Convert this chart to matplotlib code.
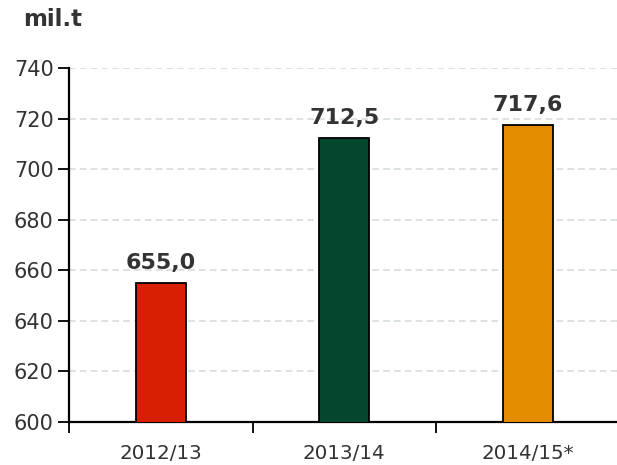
import matplotlib
matplotlib.use("Agg")
import matplotlib.pyplot as plt
from matplotlib.ticker import FixedLocator

categories = ["2012/13", "2013/14", "2014/15*"]
values = [655.0, 712.5, 717.6]
colors = ["#D81E03", "#03472D", "#E38C00"]
yticks = [600, 620, 640, 660, 680, 700, 720, 740]

fig = plt.figure(figsize=(6.17, 4.65), dpi=100)
ax = fig.add_axes([69/617, 43/465, 550.5/617, 354/465])

x = list(range(len(categories)))
bars = ax.bar(x, values, width=0.27, color=colors, edgecolor="black", linewidth=1.3, zorder=3)

ax.set_xlim(-0.5, 2.5)
ax.set_ylim(600, 740)
ax.set_yticks(yticks)
ax.set_xticks(x)
ax.set_xticklabels(categories)
ax.xaxis.set_minor_locator(FixedLocator([-0.5, 0.5, 1.5, 2.5]))
ax.tick_params(axis="x", which="major", length=0, pad=16, labelsize=14.3, labelcolor="#333333")
ax.tick_params(axis="x", which="minor", length=8, width=1.3, direction="out", color="black")
ax.tick_params(axis="y", length=8, width=1.3, labelsize=15, labelcolor="#333333", pad=3)

for spine in ["top", "right"]:
    ax.spines[spine].set_visible(False)
for spine in ["left", "bottom"]:
    ax.spines[spine].set_linewidth(1.6)

for yv in yticks[1:]:
    ax.axhline(yv, color="#D5DDD9", linestyle=(0, (4, 2.5)), linewidth=1.2, zorder=1)

for xi, v in zip(x, values):
    ax.annotate(f"{v:.1f}".replace(".", ","), (xi, v), xytext=(0, 7), textcoords="offset points",
                ha="center", va="bottom", fontsize=16, fontweight="bold", color="#333333")

fig.text(23/617, 1 - 20/465, "mil.t", fontsize=16.5, fontweight="bold", color="#333333", va="center", ha="left")

fig.savefig("out.png", dpi=100)
